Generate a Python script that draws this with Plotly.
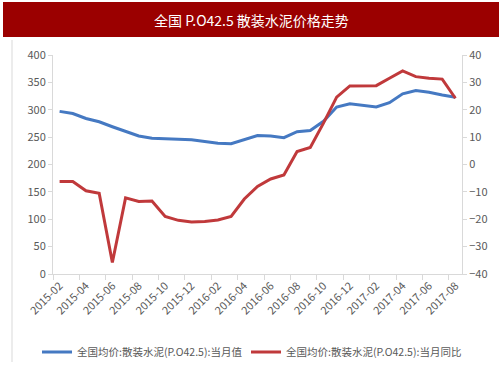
import plotly.graph_objects as go

months = ["2015-02","2015-03","2015-04","2015-05","2015-06","2015-07","2015-08","2015-09","2015-10","2015-11","2015-12",
          "2016-01","2016-02","2016-03","2016-04","2016-05","2016-06","2016-07","2016-08","2016-09","2016-10","2016-11","2016-12",
          "2017-01","2017-02","2017-03","2017-04","2017-05","2017-06","2017-07","2017-08"]
price = [297, 293, 284, 278, 269, 260, 252, 248, 247, 247, 245, 242, 239, 238, 246, 253,
         252, 249, 260, 262, 279, 305, 311, 308, 305, 313, 329, 335, 332, 327, 323]
yoy = [-6.2, -6.2, -9.6, -10.5, -35.8, -12.2, -13.5, -13.3, -19.0, -20.4, -21.0, -20.8, -20.3, -19.0, -12.6, -8.0,
       -5.3, -3.8, 4.7, 6.2, 15.1, 24.6, 28.7, 28.8, 28.8, 31.5, 34.2, 32.1, 31.5, 31.2, 24.2]
name_price = "全国均价:散装水泥(P.O42.5):当月值"
name_yoy = "全国均价:散装水泥(P.O42.5):当月同比"
title = "全国 P.O42.5 散装水泥价格走势"

FONT = "Noto Sans CJK SC"
GRAY = "#595959"
AX = "#D9D9D9"

fig = go.Figure()
fig.add_trace(go.Scatter(x=months, y=price, name=name_price, mode="lines", legend="legend",
                         line=dict(color="#4579C2", width=3)))
fig.add_trace(go.Scatter(x=months, y=yoy, name=name_yoy, mode="lines", yaxis="y2", legend="legend2",
                         line=dict(color="#C0393B", width=3)))

W, H = 503, 378
L, R, T, B = 53, 41, 55, 104
pw, ph = W - L - R, H - T - B
def px(x): return (x - L) / pw
def py(y): return (H - B - y) / ph

leg_common = dict(orientation="h", xanchor="left", yanchor="middle", y=py(352),
                  font=dict(size=10.5, color=GRAY), itemwidth=30, bgcolor="rgba(0,0,0,0)")

fig.update_layout(
    width=W, height=H, margin=dict(l=L, r=R, t=T, b=B),
    paper_bgcolor="white", plot_bgcolor="white",
    font=dict(family=FONT, color=GRAY, size=11),
    showlegend=True,
    legend=dict(x=px(37), **leg_common),
    legend2=dict(x=px(246), **leg_common),
    xaxis=dict(type="category", categoryorder="array", categoryarray=months,
               tickmode="linear", tick0=0, dtick=2, tickson="boundaries",
               ticks="outside", ticklen=5, tickcolor=AX, showline=True, linecolor=AX, linewidth=1,
               showgrid=False, tickangle=-45, tickfont=dict(size=11, color=GRAY),
               range=[-0.5, 30.5], zeroline=False),
    yaxis=dict(range=[0, 400], dtick=50, showgrid=False, showline=True, linecolor=AX,
               ticks="outside", ticklen=4, tickcolor=AX, zeroline=False,
               tickfont=dict(size=11, color=GRAY)),
    yaxis2=dict(range=[-40, 40], dtick=10, overlaying="y", side="right", showgrid=False,
                showline=True, linecolor=AX, ticks="outside", ticklen=4, tickcolor=AX,
                zeroline=False, tickfont=dict(size=11, color=GRAY)),
    shapes=[
        dict(type="rect", xref="paper", yref="paper", x0=px(3), x1=px(499), y0=py(37), y1=py(2),
             fillcolor="#9B0000", line=dict(width=0), layer="below"),
        dict(type="line", xref="paper", yref="paper", x0=px(12), x1=px(12), y0=py(362), y1=py(40),
             line=dict(color="#D9D9D9", width=1)),
    ],
    annotations=[
        dict(text=title, xref="paper", yref="paper", x=px(251), y=py(20), showarrow=False,
             xanchor="center", yanchor="middle", font=dict(family=FONT, size=14, color="white")),
    ],
)

fig.write_html("out.html", config={"displayModeBar": False},
               post_script="document.body.style.margin='0';document.body.style.overflow='hidden';")
